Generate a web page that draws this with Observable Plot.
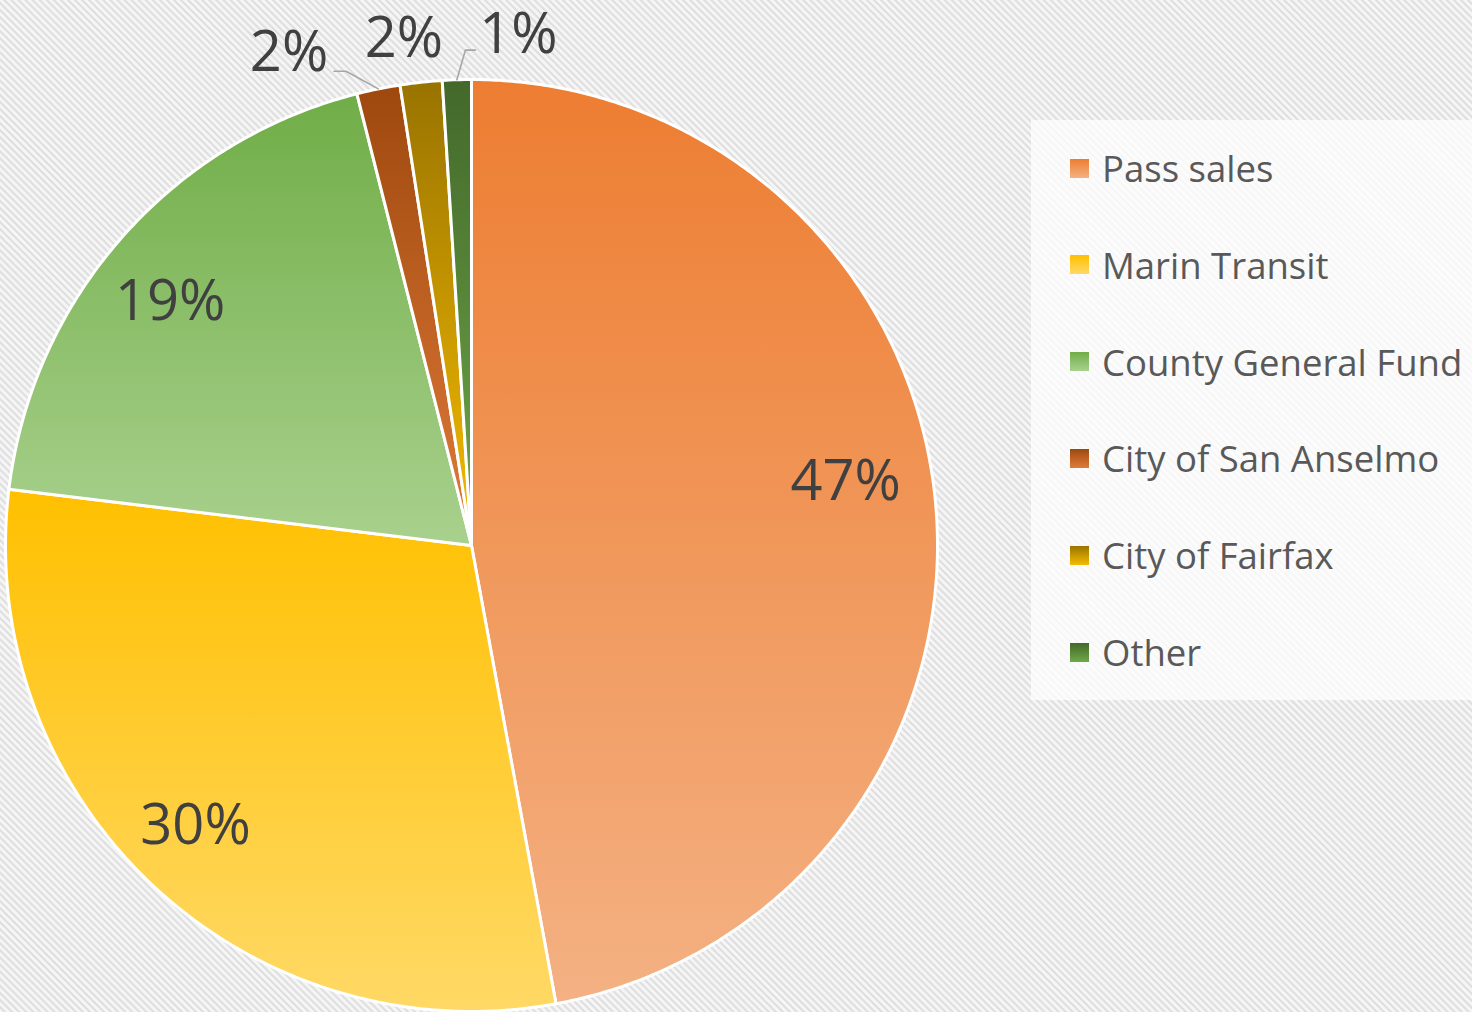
<!DOCTYPE html>
<html><head><meta charset="utf-8">
<script src="https://cdn.jsdelivr.net/npm/d3@7"></script>
<script src="https://cdn.jsdelivr.net/npm/@observablehq/plot@0.6"></script>
<style>
html,body{margin:0;padding:0;width:1472px;height:1012px;overflow:hidden;}
body{background:repeating-linear-gradient(45deg,#f5f5f5 0px,#f5f5f5 2.2px,#e0e0e0 2.8px,#e0e0e0 4.4px,#f5f5f5 5px);}
#wrap{position:relative;width:1472px;height:1012px;}
#legend{position:absolute;left:1031px;top:120px;width:441px;height:580px;background:rgba(255,255,255,0.72);}
.item{position:absolute;left:39px;height:44px;display:flex;align-items:center;font-family:"Open Sans",sans-serif;font-size:36.5px;color:#595959;white-space:nowrap;}
.sw{width:19px;height:19px;margin-right:13px;flex:none;}
</style>
</head><body>
<div id="wrap"><div id="chart"></div><div id="legend"></div></div>
<script>
// ---- data ----
const categories = ["Pass sales","Marin Transit","County General Fund","City of San Anselmo","City of Fairfax","Other"];
const shares = [47.05, 29.8, 19.1, 1.5, 1.45, 1.0];
const labels = ["47%","30%","19%","2%","2%","1%"];
// ---- style ----
const gradTop = ["#ED7D31","#FFC000","#70AD47","#9E480E","#997300","#43682B"];
const gradBottom = ["#F4B183","#FFD966","#A9D18E","#E07B39","#F5BC00","#6FA848"];
const R = 466; // px radius
const font = "Open Sans, sans-serif";

const arcs = d3.pie().sort(null).value(d => d)(shares);
const polar = (a, r) => ({x: r * Math.sin(a), y: r * Math.cos(a)});

const slices = arcs.map((a, i) => {
  const pts = [{x: 0, y: 0}];
  const n = Math.max(2, Math.ceil((a.endAngle - a.startAngle) / (Math.PI / 360)));
  for (let k = 0; k <= n; k++) pts.push(polar(a.startAngle + (a.endAngle - a.startAngle) * k / n, 1));
  return pts;
});

const mid = a => (a.startAngle + a.endAngle) / 2;
// inside labels: pixel nudges (layout only)
const nudgeIn = [[-11, -28], [-11, -1], [-11, 12]];
const inside = arcs.slice(0, 3).map((a, i) => {
  const p = polar(mid(a), 0.83);
  return {x: p.x + nudgeIn[i][0] / R, y: p.y - nudgeIn[i][1] / R, label: labels[i]};
});

// outside labels: pixel nudges (layout only)
const nudge = [[-80, 10], [-12, 3], [63, 2]];
const outside = arcs.slice(3).map((a, j) => {
  const p = polar(mid(a), 1.1);
  return {x: p.x + nudge[j][0] / R, y: p.y - nudge[j][1] / R, label: labels[3 + j]};
});
const leaders = [
  [polar(mid(arcs[3]), 1.0), {x: outside[0].x + 57 / R, y: outside[0].y - 18 / R}, {x: outside[0].x + 45 / R, y: outside[0].y - 18 / R}],
  [polar(mid(arcs[5]), 1.0), {x: outside[2].x - 53 / R, y: outside[2].y - 15 / R}, {x: outside[2].x - 43 / R, y: outside[2].y - 15 / R}]
];

const defs = () => {
  const d = d3.create("svg:defs");
  categories.forEach((c, i) => {
    const g = d.append("linearGradient").attr("id", "g" + i).attr("x1", 0).attr("y1", 0).attr("x2", 0).attr("y2", 1);
    g.append("stop").attr("offset", "0%").attr("stop-color", gradTop[i]);
    g.append("stop").attr("offset", "100%").attr("stop-color", gradBottom[i]);
  });
  return d.node();
};

const plot = Plot.plot({
  width: 1472, height: 1012,
  marginLeft: 5, marginRight: 1472 - 471 - R, marginTop: 545 - R, marginBottom: 1012 - 545 - R,
  x: {domain: [-1, 1], axis: null},
  y: {domain: [-1, 1], axis: null},
  style: {background: "transparent", overflow: "visible"},
  marks: [
    defs,
    ...slices.map((pts, i) => Plot.line(pts, {x: "x", y: "y", curve: "linear-closed", fill: `url(#g${i})`, stroke: "white", strokeWidth: 3, strokeLinejoin: "round"})),
    ...leaders.map(l => Plot.line(l, {x: "x", y: "y", stroke: "#a6a6a6", strokeWidth: 1.6})),
    Plot.text(inside, {x: "x", y: "y", text: "label", fontSize: 56, fill: "#404040", fontFamily: font}),
    Plot.text(outside, {x: "x", y: "y", text: "label", fontSize: 56, fill: "#404040", fontFamily: font})
  ]
});
document.getElementById("chart").appendChild(plot);

const legend = document.getElementById("legend");
categories.forEach((c, i) => {
  const it = document.createElement("div");
  it.className = "item";
  it.style.top = (48 + i * 96.8 - 22) + "px";
  it.innerHTML = `<div class="sw" style="background:linear-gradient(${gradTop[i]},${gradBottom[i]})"></div><span>${c}</span>`;
  legend.appendChild(it);
});
</script>
</body></html>
